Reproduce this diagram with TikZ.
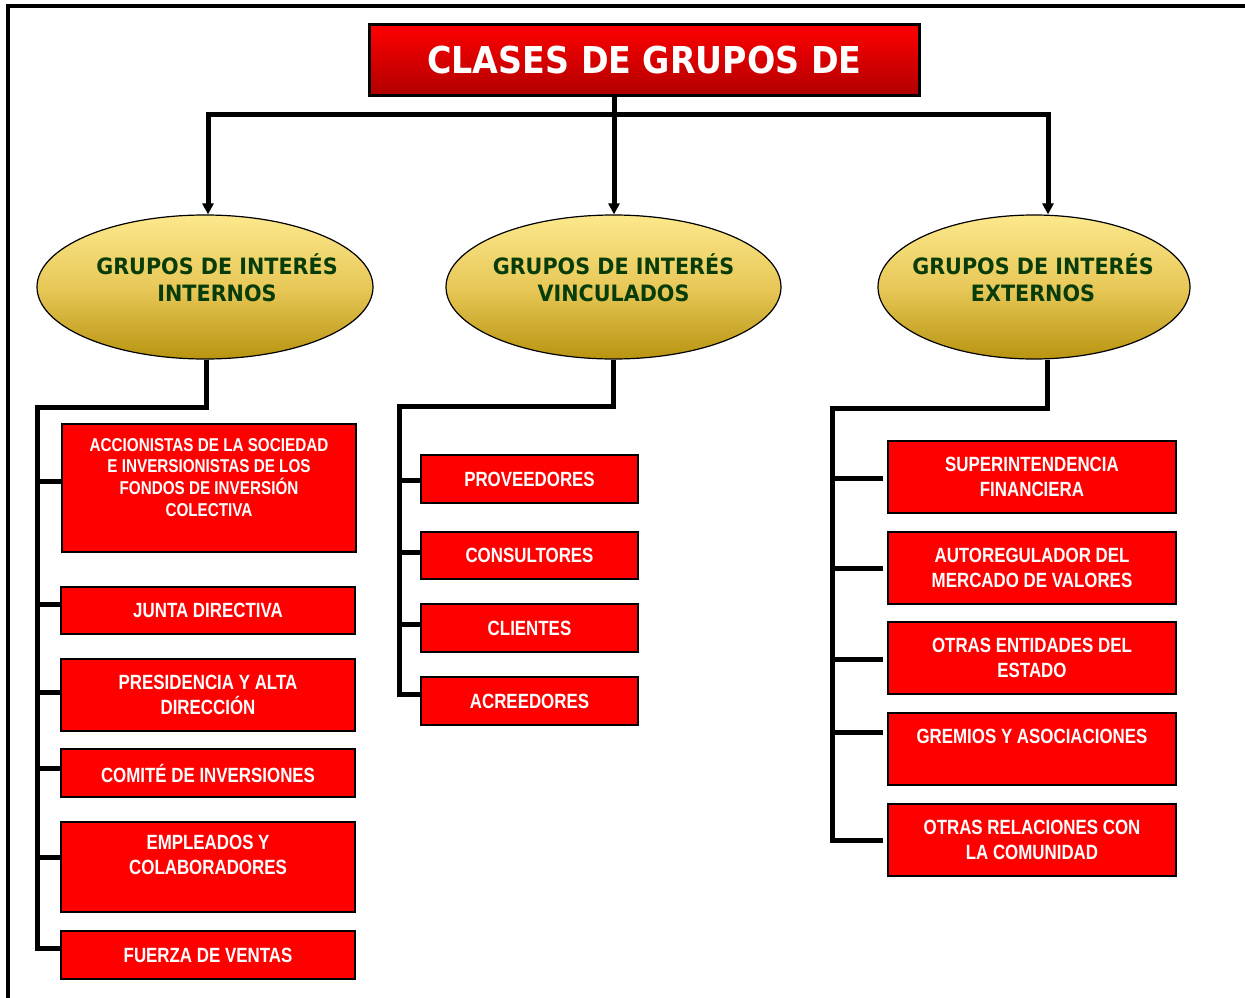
\documentclass[tikz,border=0pt]{standalone}
\usepackage{fontspec}
\setmainfont{Liberation Sans}
\newfontfamily\headfont[FakeStretch=0.9]{DejaVu Sans}
\newfontfamily\groupfont[FakeStretch=0.92]{DejaVu Sans}
\newfontfamily\narrowfont[FakeStretch=0.82]{Liberation Sans}
\usetikzlibrary{shapes.geometric,arrows.meta}
\definecolor{boxred}{RGB}{255,0,0}
\definecolor{darkred}{RGB}{176,0,0}
\definecolor{goldtop}{RGB}{252,232,140}
\definecolor{goldmid}{RGB}{232,200,88}
\definecolor{goldbot}{RGB}{184,148,16}
\definecolor{groupgreen}{RGB}{8,60,8}
\begin{document}
\begin{tikzpicture} [
  x=1pt, y=-1pt,
  title node/.style= {draw,line width=3.5pt,top color=boxred,bottom color=darkred,text=white,inner sep=0,
    minimum width=550pt,minimum height=71pt,font=\headfont\bfseries\fontsize{37}{44}\selectfont},
  group node/.style= {ellipse,draw,line width=1.2pt,top color=goldtop,bottom color=goldbot,middle color=goldmid,
    inner sep=0,minimum height=144pt},
  group text/.style= {align=center,inner sep=0,text=groupgreen,font=\groupfont\bfseries\fontsize{22.5}{27}\selectfont},
  item/.style= {draw,line width=1.5pt,fill=boxred,text=white,align=center,inner sep=0,
    font=\narrowfont\bfseries\fontsize{20.6}{24.5}\selectfont},
  small item/.style= {item,font=\narrowfont\bfseries\fontsize{18.6}{21.7}\selectfont},
  link/.style= {line width=5pt},
  tip/.style= {-{Triangle[width=11pt,length=11pt]}},
]
\useasboundingbox (0,0) rectangle (1245,998);
\draw [line width=4pt] (1245,6) -- (8,6) -- (8,998);

% title and the three groups
\node (0) [title node] at (644.5,60) {CLASES DE GRUPOS DE};
\node (A) [group node,minimum width=336pt] at (205,287) {};
\node (B) [group node,minimum width=335pt] at (613.5,287) {};
\node (C) [group node,minimum width=312pt] at (1034,287) {};
\node (At) [group text] at ([xshift=12pt,yshift=9.5pt]A.center) {GRUPOS DE INTERÉS\\INTERNOS};
\node (Bt) [group text] at ([yshift=9.5pt]B.center) {GRUPOS DE INTERÉS\\VINCULADOS};
\node (Ct) [group text] at ([xshift=-1pt,yshift=9.5pt]C.center) {GRUPOS DE INTERÉS\\EXTERNOS};

\coordinate (bar) at (614,114);
\draw [link] (bar |- 0.south) -- (bar);
\draw [link,tip] (bar) -- (bar |- B.north);
\draw [link,tip] (bar) -| ([xshift=3pt]A.north);
\draw [link,tip] (bar) -| ([xshift=14pt]C.north);

% internos
\node (A1) [small item,minimum width=294pt,minimum height=128pt] at (209,488) {ACCIONISTAS DE LA SOCIEDAD\\E INVERSIONISTAS DE LOS\\FONDOS DE INVERSIÓN\\COLECTIVA\\\phantom{C}};
\node (A2) [item,minimum width=294pt,minimum height=47pt] at (208,610.5) {JUNTA DIRECTIVA};
\node (A3) [item,minimum width=294pt,minimum height=72pt] at (208,695) {PRESIDENCIA Y ALTA\\DIRECCIÓN};
\node (A4) [item,minimum width=294pt,minimum height=48pt] at (208,773) {COMITÉ DE INVERSIONES};
\node (A5) [item,minimum width=294pt,minimum height=90pt] at (208,867) {EMPLEADOS Y\\COLABORADORES\\\phantom{C}};
\node (A6) [item,minimum width=294pt,minimum height=48pt] at (208,955) {FUERZA DE VENTAS};

% vinculados
\node (B1) [item,minimum width=217pt,minimum height=48pt] at (529.5,479) {PROVEEDORES};
\node (B2) [item,minimum width=217pt,minimum height=47pt] at (529.5,555.5) {CONSULTORES};
\node (B3) [item,minimum width=217pt,minimum height=48pt] at (529.5,628) {CLIENTES};
\node (B4) [item,minimum width=217pt,minimum height=48pt] at (529.5,701) {ACREEDORES};

% externos
\node (C1) [item,minimum width=288pt,minimum height=72pt] at (1032,477) {SUPERINTENDENCIA\\FINANCIERA};
\node (C2) [item,minimum width=288pt,minimum height=72pt] at (1032,568) {AUTOREGULADOR DEL\\MERCADO DE VALORES};
\node (C3) [item,minimum width=288pt,minimum height=72pt] at (1032,658) {OTRAS ENTIDADES DEL\\ESTADO};
\node (C4) [item,minimum width=288pt,minimum height=72pt] at (1032,749) {GREMIOS Y ASOCIACIONES\\\phantom{G}};
\node (C5) [item,minimum width=288pt,minimum height=72pt] at (1032,840) {OTRAS RELACIONES CON\\LA COMUNIDAD};

\coordinate (a) at (37,407);
\coordinate (b) at (399,406);
\coordinate (c) at (832,408);
\draw [link] ([xshift=1pt]A.south) |- (a) |- ([yshift=7pt]A6.west);
\draw [link] (B.south) |- (b) |- ([yshift=7pt]B4.west);
\draw [link,shorten >=4pt] ([xshift=13pt]C.south) |- (c) |- (C5.west);
\foreach \n/\s in {A1/7,A2/6.5,A3/3,A4/5,A5/10}
  \draw [link] ([yshift=\s pt]\n.west) coordinate (t) -- (t -| a);
\foreach \n/\s in {B1/-1,B2/3.5,B3/4}
  \draw [link] ([yshift=\s pt]\n.west) coordinate (t) -- (t -| b);
\foreach \n/\s in {C1/-1,C2/0,C3/-1,C4/17}
  \draw [link] ([xshift=-4pt,yshift=\s pt]\n.west) coordinate (t) -- (t -| c);
\end{tikzpicture}
\end{document}
